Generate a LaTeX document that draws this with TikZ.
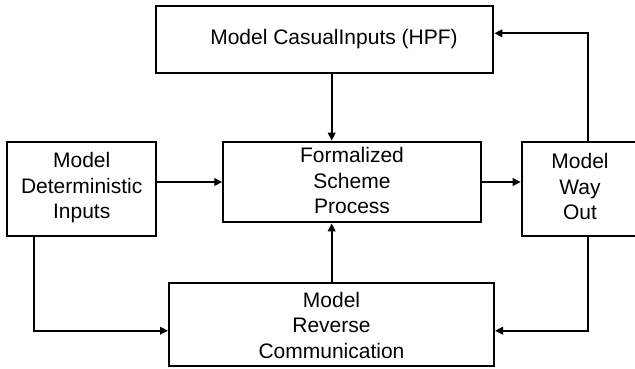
\documentclass[tikz,border=0pt]{standalone}
\usepackage{fontspec}
\setmainfont{Liberation Sans}
\usetikzlibrary{arrows.meta}
\begin{document}
\begin{tikzpicture}[x=1bp,y=-1bp,
  box/.style={draw,line width=2bp,inner sep=0pt,anchor=center},
  lbl/.style={align=center,inner sep=0pt,font=\fontsize{21bp}{25.5bp}\selectfont},
  arr/.style={line width=2bp,-{Triangle[length=8bp,width=7.5bp]}}]
\useasboundingbox (0,0) rectangle (635,368);
\clip (0,0) rectangle (635,368);

% blocks
\node[box,minimum width=337.6bp,minimum height=67.3bp] (hpf) at (324.5,39.4) {};
\node[lbl] (hpftext) at (334,39.5) {Model CasualInputs (HPF)};

\node[box,minimum width=257.4bp,minimum height=80.6bp] (fsp) at (352,182) {};
\node[lbl] (fsptext) at (352,180.5) {Formalized\\Scheme\\Process};

\node[box,minimum width=149.3bp,minimum height=94.3bp] (mdi) at (81.3,188.8) {};
\node[lbl] (mditext) at (81.7,187.7) {Model\\Deterministic\\Inputs};

\node[box,minimum width=128bp,minimum height=94.3bp,anchor=west] (mwo) at (520.7,188.8) {};
\node[lbl] (mwotext) at (580,186.5) {Model\\Way\\Out};

\node[box,minimum width=325bp,minimum height=83bp] (mrc) at (331.5,324.2) {};
\node[lbl] (mrctext) at (331.5,325) {Model\\Reverse\\Communication};

% routing points
\coordinate (vx) at (331.7,0);
\coordinate (lturn) at (34,330.7);
\coordinate (rturn) at (588.3,330.7);
\coordinate (uturn) at (588.3,33.3);

% connectors
\draw[arr] (hpf.south -| vx) -- (fsp.north -| vx);
\draw[arr] (mdi.east |- fsp.west) -- (fsp.west);
\draw[arr] (fsp.east) -- (mwo.west |- fsp.east);
\draw[arr] (mrc.north -| vx) -- (fsp.south -| vx);
\draw[arr] (mdi.south -| lturn) -- (lturn) -- (mrc.west |- lturn);
\draw[arr] (mwo.south -| rturn) -- (rturn) -- (mrc.east |- rturn);
\draw[arr] (mwo.north -| uturn) -- (uturn) -- (hpf.east |- uturn);
\end{tikzpicture}
\end{document}
